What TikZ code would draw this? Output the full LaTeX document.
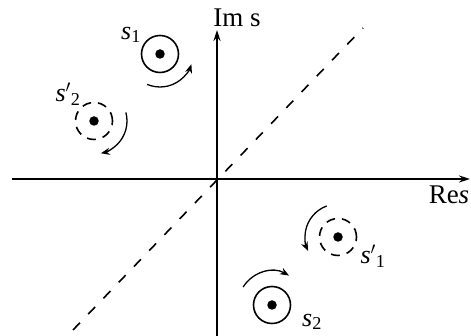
\documentclass[tikz,border=0pt]{standalone}
\usepackage{fontspec}
\setmainfont{Liberation Serif}
\usetikzlibrary{arrows.meta}
\begin{document}
\begin{tikzpicture}[x=1pt,y=1pt,
  axis/.style={line width=1.6pt,-{Stealth[length=11pt,width=7pt]}},
  diag/.style={line width=1.6pt,dash pattern=on 10pt off 12pt},
  pole/.style={circle,draw,line width=1.6pt,minimum size=37pt,inner sep=0pt},
  dpole/.style={circle,draw,line width=1.6pt,minimum size=37pt,inner sep=0pt,dash pattern=on 9pt off 7pt},
  dotc/.style={circle,fill,minimum size=9.5pt,inner sep=0pt},
  rot/.style={line width=1.3pt,-{Stealth[length=9pt,width=7pt]}},
  lab/.style={font=\fontsize{26}{30}\selectfont,inner sep=0pt},
  alab/.style={font=\fontsize{27}{31}\selectfont,inner sep=0pt}]
\useasboundingbox (0,0) rectangle (471,336);
% axes
\coordinate (xl) at (12,157);
\coordinate (xr) at (470,157);
\coordinate (yb) at (217,0);
\coordinate (yt) at (217,306);
\coordinate (dl) at (73,6);
\coordinate (dr) at (363,308);
\draw[axis] (xl) -- (xr);
\draw[axis] (yb) -- (yt);
\draw[diag] (dl) -- (dr);
\node[alab] (ims) at (237,318) {Im s};
\node[alab] (res) at (449,141) {Re\textit{s}};
% poles
\node[pole] (s1) at (160,282) {};
\node[dotc] (d1) at (s1.center) {};
\node[dpole] (s2p) at (94,215) {};
\node[dotc] (d2p) at (s2p.center) {};
\node[dpole] (s1p) at (338,99) {};
\node[dotc] (d1p) at (s1p.center) {};
\node[pole] (s2) at (272,31) {};
\node[dotc] (d2) at (s2.center) {};
% labels
\node[lab] (l1) at (131,301) {\textit{s}\textsubscript{1}};
\node[lab] (l2p) at (68,242) {\textit{s}$^{\prime}$\textsubscript{2}};
\node[lab] (l1p) at (373,80) {\textit{s}$^{\prime}$\textsubscript{1}};
\node[lab] (l2) at (312,14) {\textit{s}\textsubscript{2}};
% rotation arrows
\draw[rot] ([shift={(-113:33pt)}]s1.center) arc[start angle=-113,end angle=-18,radius=33pt];
\draw[rot] ([shift={(15:33pt)}]s2p.center) arc[start angle=15,end angle=-78,radius=33pt];
\draw[rot] ([shift={(110:33pt)}]s1p.center) arc[start angle=110,end angle=205,radius=33pt];
\draw[rot] ([shift={(148:34pt)}]s2.center) arc[start angle=148,end angle=60,radius=34pt];
\end{tikzpicture}
\end{document}
